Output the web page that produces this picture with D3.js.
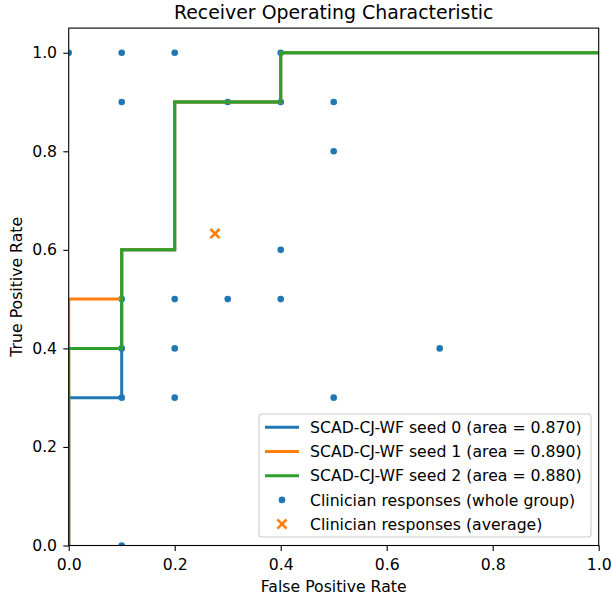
<!DOCTYPE html>
<html>
<head>
<meta charset="utf-8">
<script src="https://cdn.jsdelivr.net/npm/d3@7"></script>
<style>
  body { margin: 0; background: #fff; }
  text { font-family: "DejaVu Sans", sans-serif; fill: #000; }
</style>
</head>
<body>
<script>
// roc curves, one per seed
var seedNames = ["SCAD-CJ-WF seed 0 (area = 0.870)",
  "SCAD-CJ-WF seed 1 (area = 0.890)",
  "SCAD-CJ-WF seed 2 (area = 0.880)"];
var seedFpr = [
  [0, 0, 0.1, 0.1, 0.2, 0.2, 0.4, 0.4, 1],
  [0, 0, 0.1, 0.1, 0.2, 0.2, 0.4, 0.4, 1],
  [0, 0, 0.1, 0.1, 0.2, 0.2, 0.4, 0.4, 1]];
var seedTpr = [
  [0, 0.3, 0.3, 0.6, 0.6, 0.9, 0.9, 1, 1],
  [0, 0.5, 0.5, 0.6, 0.6, 0.9, 0.9, 1, 1],
  [0, 0.4, 0.4, 0.6, 0.6, 0.9, 0.9, 1, 1]];
var seedColors = ["#1f77b4", "#ff7f0e", "#2ca02c"];

// clinician answers
var clinFpr = [0, 0.1, 0.2, 0.4, 0.1, 0.3, 0.4, 0.5, 0.5, 0.4, 0.1, 0.2, 0.3, 0.4, 0.1, 0.2, 0.7, 0.1, 0.2, 0.5, 0.1];
var clinTpr = [1, 1, 1, 1, 0.9, 0.9, 0.9, 0.9, 0.8, 0.6, 0.5, 0.5, 0.5, 0.5, 0.4, 0.4, 0.4, 0.3, 0.3, 0.3, 0];
var avgFpr = [0.276];
var avgTpr = [0.633];

var xTicks = [0, 0.2, 0.4, 0.6, 0.8, 1.0];
var yTicks = [0, 0.2, 0.4, 0.6, 0.8, 1.0];

var W = 612, H = 598;
// plot box (window.top is taken, so p-prefixed)
var pLeft = 68.7, pRight = 598.7, pTop = 28.1, pBottom = 545.5;
var fs = 15.7;

var svg = d3.select("body").append("svg")
  .attr("width", W)
  .attr("height", H);

var x = d3.scaleLinear().domain([0, 1]).range([pLeft, pRight]);
var y = d3.scaleLinear().domain([0, 1.05]).range([pBottom, pTop]);

svg.append("clipPath").attr("id", "plotclip")
  .append("rect")
  .attr("x", pLeft).attr("y", pTop)
  .attr("width", pRight - pLeft).attr("height", pBottom - pTop);

var plot = svg.append("g").attr("clip-path", "url(#plotclip)");

// dots go under the lines
plot.selectAll("circle.clin")
  .data(clinFpr.map(function(d, i){ return [d, clinTpr[i]]; }))
  .enter()
  .append("circle")
  .attr("class", "clin")
  .attr("cx", function(d){ return x(d[0]); })
  .attr("cy", function(d){ return y(d[1]); })
  .attr("r", 3.3)
  .style("fill", "#1f77b4");

var line = d3.line()
  .x(function(d){ return x(d[0]); })
  .y(function(d){ return y(d[1]); });

seedFpr.forEach(function(f, s){
  plot.append("path")
    .datum(f.map(function(d, i){ return [d, seedTpr[s][i]]; }))
    .attr("d", line)
    .style("fill", "none")
    .style("stroke", seedColors[s])
    .style("stroke-width", 3)
    .style("stroke-linejoin", "miter")
    .style("stroke-linecap", "square");
});

var cross = function(g, cx, cy, h){
  g.append("path")
    .attr("d", "M" + (cx - h) + "," + (cy - h) + "L" + (cx + h) + "," + (cy + h) +
      "M" + (cx - h) + "," + (cy + h) + "L" + (cx + h) + "," + (cy - h))
    .style("stroke", "#ff7f0e")
    .style("stroke-width", 2.6)
    .style("fill", "none");
};

avgFpr.forEach(function(d, i){
  cross(plot, x(d), y(avgTpr[i]), 4.6);
});

// axes
var xAxis = svg.append("g")
  .attr("transform", "translate(0," + pBottom + ")")
  .call(d3.axisBottom(x).tickValues(xTicks).tickFormat(d3.format(".1f"))
    .tickSize(5.4).tickPadding(7.5).tickSizeOuter(0));
var yAxis = svg.append("g")
  .attr("transform", "translate(" + pLeft + ",0)")
  .call(d3.axisLeft(y).tickValues(yTicks).tickFormat(d3.format(".1f"))
    .tickSize(5.4).tickPadding(6.2).tickSizeOuter(0));

[xAxis, yAxis].forEach(function(a){
  a.select(".domain").remove();
  a.selectAll("line").style("stroke", "#000").style("stroke-width", 1.1);
  a.selectAll("text").style("font-size", fs + "px")
    .style("font-family", "DejaVu Sans, sans-serif");
});

// spines
svg.append("rect")
  .attr("x", pLeft).attr("y", pTop)
  .attr("width", pRight - pLeft).attr("height", pBottom - pTop)
  .style("fill", "none")
  .style("stroke", "#000")
  .style("stroke-width", 1.1);

svg.append("text")
  .attr("x", (pLeft + pRight) / 2).attr("y", 19.3)
  .attr("text-anchor", "middle")
  .style("font-size", "18.9px")
  .text("Receiver Operating Characteristic");

svg.append("text")
  .attr("x", (pLeft + pRight) / 2).attr("y", 592)
  .attr("text-anchor", "middle")
  .style("font-size", fs + "px")
  .text("False Positive Rate");

svg.append("text")
  .attr("transform", "translate(22," + ((pTop + pBottom) / 2) + ") rotate(-90)")
  .attr("text-anchor", "middle")
  .style("font-size", fs + "px")
  .text("True Positive Rate");

// legend
var lg = svg.append("g");
lg.append("rect")
  .attr("x", 259).attr("y", 414)
  .attr("width", 332).attr("height", 123)
  .attr("rx", 3).attr("ry", 3)
  .style("fill", "#fff").style("fill-opacity", 0.8)
  .style("stroke", "#ccc").style("stroke-width", 1.1);

var rowY = function(i){ return 427.3 + i * 24.2; };

seedNames.forEach(function(name, i){
  lg.append("line")
    .attr("x1", 265).attr("x2", 299)
    .attr("y1", rowY(i)).attr("y2", rowY(i))
    .style("stroke", seedColors[i]).style("stroke-width", 3);
  lg.append("text")
    .attr("x", 310).attr("y", rowY(i) + 5.7)
    .style("font-size", fs + "px")
    .text(name);
});

lg.append("circle")
  .attr("cx", 282).attr("cy", rowY(3))
  .attr("r", 3.3).style("fill", "#1f77b4");
lg.append("text")
  .attr("x", 310).attr("y", rowY(3) + 5.7)
  .style("font-size", fs + "px")
  .text("Clinician responses (whole group)");

cross(lg, 282, rowY(4), 4.6);
lg.append("text")
  .attr("x", 310).attr("y", rowY(4) + 5.7)
  .style("font-size", fs + "px")
  .text("Clinician responses (average)");
</script>
</body>
</html>
